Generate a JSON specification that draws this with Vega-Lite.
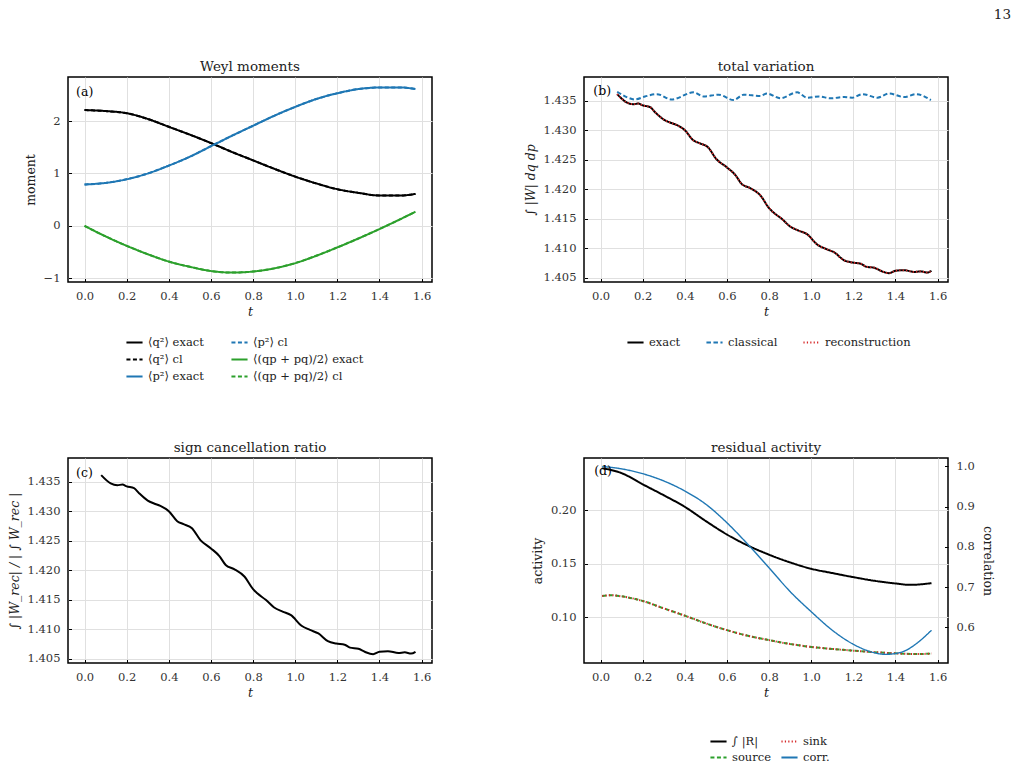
{
  "$schema": "https://vega.github.io/schema/vega-lite/v6.json",
  "padding": {"left": 7, "top": 8, "right": 5, "bottom": 5},
  "title": {"text": "13", "anchor": "end", "fontSize": 13.5, "offset": 37, "dx": 17},
  "bounds": "flush",
  "columns": 2,
  "spacing": {"row": 176, "column": 152},
  "resolve": {"scale": {"color": "independent", "strokeDash": "independent"}},
  "datasets": {
    "a": [
      {"t": 0, "v": 2.21, "s": "⟨q²⟩ exact"}, {"t": 0.1, "v": 2.19, "s": "⟨q²⟩ exact"}, {"t": 0.2, "v": 2.15, "s": "⟨q²⟩ exact"}, {"t": 0.3, "v": 2.04, "s": "⟨q²⟩ exact"}, {"t": 0.4, "v": 1.89, "s": "⟨q²⟩ exact"}, {"t": 0.5, "v": 1.74, "s": "⟨q²⟩ exact"}, {"t": 0.6, "v": 1.58, "s": "⟨q²⟩ exact"}, {"t": 0.7, "v": 1.41, "s": "⟨q²⟩ exact"}, {"t": 0.8, "v": 1.25, "s": "⟨q²⟩ exact"}, {"t": 0.9, "v": 1.09, "s": "⟨q²⟩ exact"}, {"t": 1.0, "v": 0.94, "s": "⟨q²⟩ exact"}, {"t": 1.1, "v": 0.81, "s": "⟨q²⟩ exact"}, {"t": 1.2, "v": 0.70, "s": "⟨q²⟩ exact"}, {"t": 1.3, "v": 0.63, "s": "⟨q²⟩ exact"}, {"t": 1.4, "v": 0.58, "s": "⟨q²⟩ exact"}, {"t": 1.5, "v": 0.58, "s": "⟨q²⟩ exact"}, {"t": 1.5708, "v": 0.61, "s": "⟨q²⟩ exact"},
      {"t": 0, "v": 2.21, "s": "⟨q²⟩ cl"}, {"t": 0.1, "v": 2.19, "s": "⟨q²⟩ cl"}, {"t": 0.2, "v": 2.15, "s": "⟨q²⟩ cl"}, {"t": 0.3, "v": 2.04, "s": "⟨q²⟩ cl"}, {"t": 0.4, "v": 1.89, "s": "⟨q²⟩ cl"}, {"t": 0.5, "v": 1.74, "s": "⟨q²⟩ cl"}, {"t": 0.6, "v": 1.58, "s": "⟨q²⟩ cl"}, {"t": 0.7, "v": 1.41, "s": "⟨q²⟩ cl"}, {"t": 0.8, "v": 1.25, "s": "⟨q²⟩ cl"}, {"t": 0.9, "v": 1.09, "s": "⟨q²⟩ cl"}, {"t": 1.0, "v": 0.94, "s": "⟨q²⟩ cl"}, {"t": 1.1, "v": 0.81, "s": "⟨q²⟩ cl"}, {"t": 1.2, "v": 0.70, "s": "⟨q²⟩ cl"}, {"t": 1.3, "v": 0.63, "s": "⟨q²⟩ cl"}, {"t": 1.4, "v": 0.58, "s": "⟨q²⟩ cl"}, {"t": 1.5, "v": 0.58, "s": "⟨q²⟩ cl"}, {"t": 1.5708, "v": 0.61, "s": "⟨q²⟩ cl"},
      {"t": 0, "v": 0.79, "s": "⟨p²⟩ exact"}, {"t": 0.1, "v": 0.82, "s": "⟨p²⟩ exact"}, {"t": 0.2, "v": 0.89, "s": "⟨p²⟩ exact"}, {"t": 0.3, "v": 1.00, "s": "⟨p²⟩ exact"}, {"t": 0.4, "v": 1.15, "s": "⟨p²⟩ exact"}, {"t": 0.5, "v": 1.32, "s": "⟨p²⟩ exact"}, {"t": 0.6, "v": 1.52, "s": "⟨p²⟩ exact"}, {"t": 0.7, "v": 1.72, "s": "⟨p²⟩ exact"}, {"t": 0.8, "v": 1.91, "s": "⟨p²⟩ exact"}, {"t": 0.9, "v": 2.10, "s": "⟨p²⟩ exact"}, {"t": 1.0, "v": 2.27, "s": "⟨p²⟩ exact"}, {"t": 1.1, "v": 2.42, "s": "⟨p²⟩ exact"}, {"t": 1.2, "v": 2.53, "s": "⟨p²⟩ exact"}, {"t": 1.3, "v": 2.61, "s": "⟨p²⟩ exact"}, {"t": 1.4, "v": 2.64, "s": "⟨p²⟩ exact"}, {"t": 1.5, "v": 2.64, "s": "⟨p²⟩ exact"}, {"t": 1.5708, "v": 2.61, "s": "⟨p²⟩ exact"},
      {"t": 0, "v": 0.79, "s": "⟨p²⟩ cl"}, {"t": 0.1, "v": 0.82, "s": "⟨p²⟩ cl"}, {"t": 0.2, "v": 0.89, "s": "⟨p²⟩ cl"}, {"t": 0.3, "v": 1.00, "s": "⟨p²⟩ cl"}, {"t": 0.4, "v": 1.15, "s": "⟨p²⟩ cl"}, {"t": 0.5, "v": 1.32, "s": "⟨p²⟩ cl"}, {"t": 0.6, "v": 1.52, "s": "⟨p²⟩ cl"}, {"t": 0.7, "v": 1.72, "s": "⟨p²⟩ cl"}, {"t": 0.8, "v": 1.91, "s": "⟨p²⟩ cl"}, {"t": 0.9, "v": 2.10, "s": "⟨p²⟩ cl"}, {"t": 1.0, "v": 2.27, "s": "⟨p²⟩ cl"}, {"t": 1.1, "v": 2.42, "s": "⟨p²⟩ cl"}, {"t": 1.2, "v": 2.53, "s": "⟨p²⟩ cl"}, {"t": 1.3, "v": 2.61, "s": "⟨p²⟩ cl"}, {"t": 1.4, "v": 2.64, "s": "⟨p²⟩ cl"}, {"t": 1.5, "v": 2.64, "s": "⟨p²⟩ cl"}, {"t": 1.5708, "v": 2.61, "s": "⟨p²⟩ cl"},
      {"t": 0, "v": 0.0, "s": "⟨(qp + pq)/2⟩ exact"}, {"t": 0.1, "v": -0.20, "s": "⟨(qp + pq)/2⟩ exact"}, {"t": 0.2, "v": -0.38, "s": "⟨(qp + pq)/2⟩ exact"}, {"t": 0.3, "v": -0.54, "s": "⟨(qp + pq)/2⟩ exact"}, {"t": 0.4, "v": -0.68, "s": "⟨(qp + pq)/2⟩ exact"}, {"t": 0.5, "v": -0.78, "s": "⟨(qp + pq)/2⟩ exact"}, {"t": 0.6, "v": -0.86, "s": "⟨(qp + pq)/2⟩ exact"}, {"t": 0.7, "v": -0.89, "s": "⟨(qp + pq)/2⟩ exact"}, {"t": 0.8, "v": -0.87, "s": "⟨(qp + pq)/2⟩ exact"}, {"t": 0.9, "v": -0.81, "s": "⟨(qp + pq)/2⟩ exact"}, {"t": 1.0, "v": -0.71, "s": "⟨(qp + pq)/2⟩ exact"}, {"t": 1.1, "v": -0.57, "s": "⟨(qp + pq)/2⟩ exact"}, {"t": 1.2, "v": -0.41, "s": "⟨(qp + pq)/2⟩ exact"}, {"t": 1.3, "v": -0.24, "s": "⟨(qp + pq)/2⟩ exact"}, {"t": 1.4, "v": -0.06, "s": "⟨(qp + pq)/2⟩ exact"}, {"t": 1.5, "v": 0.13, "s": "⟨(qp + pq)/2⟩ exact"}, {"t": 1.5708, "v": 0.27, "s": "⟨(qp + pq)/2⟩ exact"},
      {"t": 0, "v": 0.0, "s": "⟨(qp + pq)/2⟩ cl"}, {"t": 0.1, "v": -0.20, "s": "⟨(qp + pq)/2⟩ cl"}, {"t": 0.2, "v": -0.38, "s": "⟨(qp + pq)/2⟩ cl"}, {"t": 0.3, "v": -0.54, "s": "⟨(qp + pq)/2⟩ cl"}, {"t": 0.4, "v": -0.68, "s": "⟨(qp + pq)/2⟩ cl"}, {"t": 0.5, "v": -0.78, "s": "⟨(qp + pq)/2⟩ cl"}, {"t": 0.6, "v": -0.86, "s": "⟨(qp + pq)/2⟩ cl"}, {"t": 0.7, "v": -0.89, "s": "⟨(qp + pq)/2⟩ cl"}, {"t": 0.8, "v": -0.87, "s": "⟨(qp + pq)/2⟩ cl"}, {"t": 0.9, "v": -0.81, "s": "⟨(qp + pq)/2⟩ cl"}, {"t": 1.0, "v": -0.71, "s": "⟨(qp + pq)/2⟩ cl"}, {"t": 1.1, "v": -0.57, "s": "⟨(qp + pq)/2⟩ cl"}, {"t": 1.2, "v": -0.41, "s": "⟨(qp + pq)/2⟩ cl"}, {"t": 1.3, "v": -0.24, "s": "⟨(qp + pq)/2⟩ cl"}, {"t": 1.4, "v": -0.06, "s": "⟨(qp + pq)/2⟩ cl"}, {"t": 1.5, "v": 0.13, "s": "⟨(qp + pq)/2⟩ cl"}, {"t": 1.5708, "v": 0.27, "s": "⟨(qp + pq)/2⟩ cl"}
    ],
    "tv": [
      {"t": 0.079, "v": 1.4361, "s": "exact"}, {"t": 0.124, "v": 1.4347, "s": "exact"}, {"t": 0.156, "v": 1.4344, "s": "exact"}, {"t": 0.18, "v": 1.4345, "s": "exact"}, {"t": 0.2, "v": 1.4342, "s": "exact"}, {"t": 0.235, "v": 1.4339, "s": "exact"}, {"t": 0.26, "v": 1.4330, "s": "exact"}, {"t": 0.3, "v": 1.4318, "s": "exact"}, {"t": 0.33, "v": 1.4313, "s": "exact"}, {"t": 0.36, "v": 1.4309, "s": "exact"}, {"t": 0.4, "v": 1.4300, "s": "exact"}, {"t": 0.44, "v": 1.4283, "s": "exact"}, {"t": 0.47, "v": 1.4278, "s": "exact"}, {"t": 0.51, "v": 1.4271, "s": "exact"}, {"t": 0.55, "v": 1.4251, "s": "exact"}, {"t": 0.6, "v": 1.4237, "s": "exact"}, {"t": 0.64, "v": 1.4224, "s": "exact"}, {"t": 0.67, "v": 1.4209, "s": "exact"}, {"t": 0.71, "v": 1.4202, "s": "exact"}, {"t": 0.76, "v": 1.4189, "s": "exact"}, {"t": 0.8, "v": 1.4168, "s": "exact"}, {"t": 0.82, "v": 1.4161, "s": "exact"}, {"t": 0.86, "v": 1.4150, "s": "exact"}, {"t": 0.9, "v": 1.4137, "s": "exact"}, {"t": 0.94, "v": 1.4130, "s": "exact"}, {"t": 0.98, "v": 1.4124, "s": "exact"}, {"t": 1.03, "v": 1.4106, "s": "exact"}, {"t": 1.07, "v": 1.4099, "s": "exact"}, {"t": 1.11, "v": 1.4093, "s": "exact"}, {"t": 1.155, "v": 1.4080, "s": "exact"}, {"t": 1.195, "v": 1.4076, "s": "exact"}, {"t": 1.235, "v": 1.4074, "s": "exact"}, {"t": 1.26, "v": 1.4069, "s": "exact"}, {"t": 1.3, "v": 1.4067, "s": "exact"}, {"t": 1.33, "v": 1.4062, "s": "exact"}, {"t": 1.37, "v": 1.4058, "s": "exact"}, {"t": 1.40, "v": 1.4062, "s": "exact"}, {"t": 1.44, "v": 1.4063, "s": "exact"}, {"t": 1.49, "v": 1.4060, "s": "exact"}, {"t": 1.52, "v": 1.4061, "s": "exact"}, {"t": 1.55, "v": 1.4059, "s": "exact"}, {"t": 1.571, "v": 1.4062, "s": "exact"},
      {"t": 0.079, "v": 1.4365, "s": "classical"}, {"t": 0.124, "v": 1.4356, "s": "classical"}, {"t": 0.163, "v": 1.4352, "s": "classical"}, {"t": 0.211, "v": 1.4357, "s": "classical"}, {"t": 0.267, "v": 1.4361, "s": "classical"}, {"t": 0.338, "v": 1.4352, "s": "classical"}, {"t": 0.441, "v": 1.4364, "s": "classical"}, {"t": 0.489, "v": 1.4357, "s": "classical"}, {"t": 0.56, "v": 1.4360, "s": "classical"}, {"t": 0.632, "v": 1.4351, "s": "classical"}, {"t": 0.679, "v": 1.4360, "s": "classical"}, {"t": 0.759, "v": 1.4358, "s": "classical"}, {"t": 0.79, "v": 1.4362, "s": "classical"}, {"t": 0.854, "v": 1.4354, "s": "classical"}, {"t": 0.933, "v": 1.4364, "s": "classical"}, {"t": 0.981, "v": 1.4355, "s": "classical"}, {"t": 1.037, "v": 1.4357, "s": "classical"}, {"t": 1.092, "v": 1.4354, "s": "classical"}, {"t": 1.156, "v": 1.4356, "s": "classical"}, {"t": 1.195, "v": 1.4355, "s": "classical"}, {"t": 1.243, "v": 1.4361, "s": "classical"}, {"t": 1.314, "v": 1.4355, "s": "classical"}, {"t": 1.37, "v": 1.4362, "s": "classical"}, {"t": 1.441, "v": 1.4356, "s": "classical"}, {"t": 1.497, "v": 1.4361, "s": "classical"}, {"t": 1.568, "v": 1.4351, "s": "classical"},
      {"t": 0.079, "v": 1.4361, "s": "reconstruction"}, {"t": 0.124, "v": 1.4347, "s": "reconstruction"}, {"t": 0.156, "v": 1.4344, "s": "reconstruction"}, {"t": 0.18, "v": 1.4345, "s": "reconstruction"}, {"t": 0.2, "v": 1.4342, "s": "reconstruction"}, {"t": 0.235, "v": 1.4339, "s": "reconstruction"}, {"t": 0.26, "v": 1.4330, "s": "reconstruction"}, {"t": 0.3, "v": 1.4318, "s": "reconstruction"}, {"t": 0.33, "v": 1.4313, "s": "reconstruction"}, {"t": 0.36, "v": 1.4309, "s": "reconstruction"}, {"t": 0.4, "v": 1.4300, "s": "reconstruction"}, {"t": 0.44, "v": 1.4283, "s": "reconstruction"}, {"t": 0.47, "v": 1.4278, "s": "reconstruction"}, {"t": 0.51, "v": 1.4271, "s": "reconstruction"}, {"t": 0.55, "v": 1.4251, "s": "reconstruction"}, {"t": 0.6, "v": 1.4237, "s": "reconstruction"}, {"t": 0.64, "v": 1.4224, "s": "reconstruction"}, {"t": 0.67, "v": 1.4209, "s": "reconstruction"}, {"t": 0.71, "v": 1.4202, "s": "reconstruction"}, {"t": 0.76, "v": 1.4189, "s": "reconstruction"}, {"t": 0.8, "v": 1.4168, "s": "reconstruction"}, {"t": 0.82, "v": 1.4161, "s": "reconstruction"}, {"t": 0.86, "v": 1.4150, "s": "reconstruction"}, {"t": 0.9, "v": 1.4137, "s": "reconstruction"}, {"t": 0.94, "v": 1.4130, "s": "reconstruction"}, {"t": 0.98, "v": 1.4124, "s": "reconstruction"}, {"t": 1.03, "v": 1.4106, "s": "reconstruction"}, {"t": 1.07, "v": 1.4099, "s": "reconstruction"}, {"t": 1.11, "v": 1.4093, "s": "reconstruction"}, {"t": 1.155, "v": 1.4080, "s": "reconstruction"}, {"t": 1.195, "v": 1.4076, "s": "reconstruction"}, {"t": 1.235, "v": 1.4074, "s": "reconstruction"}, {"t": 1.26, "v": 1.4069, "s": "reconstruction"}, {"t": 1.3, "v": 1.4067, "s": "reconstruction"}, {"t": 1.33, "v": 1.4062, "s": "reconstruction"}, {"t": 1.37, "v": 1.4058, "s": "reconstruction"}, {"t": 1.40, "v": 1.4062, "s": "reconstruction"}, {"t": 1.44, "v": 1.4063, "s": "reconstruction"}, {"t": 1.49, "v": 1.4060, "s": "reconstruction"}, {"t": 1.52, "v": 1.4061, "s": "reconstruction"}, {"t": 1.55, "v": 1.4059, "s": "reconstruction"}, {"t": 1.571, "v": 1.4062, "s": "reconstruction"}
    ],
    "d": [
      {"t": 0.008, "v": 0.239, "s": "∫ |R|"}, {"t": 0.1, "v": 0.2344, "s": "∫ |R|"}, {"t": 0.2, "v": 0.224, "s": "∫ |R|"}, {"t": 0.3, "v": 0.2138, "s": "∫ |R|"}, {"t": 0.4, "v": 0.203, "s": "∫ |R|"}, {"t": 0.5, "v": 0.1897, "s": "∫ |R|"}, {"t": 0.6, "v": 0.1772, "s": "∫ |R|"}, {"t": 0.7, "v": 0.1669, "s": "∫ |R|"}, {"t": 0.8, "v": 0.1584, "s": "∫ |R|"}, {"t": 0.9, "v": 0.1512, "s": "∫ |R|"}, {"t": 1.0, "v": 0.1453, "s": "∫ |R|"}, {"t": 1.1, "v": 0.1413, "s": "∫ |R|"}, {"t": 1.2, "v": 0.1375, "s": "∫ |R|"}, {"t": 1.3, "v": 0.1341, "s": "∫ |R|"}, {"t": 1.4, "v": 0.1316, "s": "∫ |R|"}, {"t": 1.47, "v": 0.1303, "s": "∫ |R|"}, {"t": 1.571, "v": 0.1319, "s": "∫ |R|"},
      {"t": 0.008, "v": 0.1200, "s": "source"}, {"t": 0.05, "v": 0.1206, "s": "source"}, {"t": 0.1, "v": 0.1196, "s": "source"}, {"t": 0.2, "v": 0.1153, "s": "source"}, {"t": 0.3, "v": 0.1084, "s": "source"}, {"t": 0.4, "v": 0.1016, "s": "source"}, {"t": 0.5, "v": 0.0944, "s": "source"}, {"t": 0.6, "v": 0.0881, "s": "source"}, {"t": 0.7, "v": 0.0828, "s": "source"}, {"t": 0.8, "v": 0.0788, "s": "source"}, {"t": 0.9, "v": 0.0752, "s": "source"}, {"t": 1.0, "v": 0.0725, "s": "source"}, {"t": 1.1, "v": 0.0706, "s": "source"}, {"t": 1.2, "v": 0.0690, "s": "source"}, {"t": 1.3, "v": 0.0676, "s": "source"}, {"t": 1.4, "v": 0.0665, "s": "source"}, {"t": 1.5, "v": 0.0658, "s": "source"}, {"t": 1.571, "v": 0.0663, "s": "source"},
      {"t": 0.008, "v": 0.1200, "s": "sink"}, {"t": 0.05, "v": 0.1206, "s": "sink"}, {"t": 0.1, "v": 0.1196, "s": "sink"}, {"t": 0.2, "v": 0.1153, "s": "sink"}, {"t": 0.3, "v": 0.1084, "s": "sink"}, {"t": 0.4, "v": 0.1016, "s": "sink"}, {"t": 0.5, "v": 0.0944, "s": "sink"}, {"t": 0.6, "v": 0.0881, "s": "sink"}, {"t": 0.7, "v": 0.0828, "s": "sink"}, {"t": 0.8, "v": 0.0788, "s": "sink"}, {"t": 0.9, "v": 0.0752, "s": "sink"}, {"t": 1.0, "v": 0.0725, "s": "sink"}, {"t": 1.1, "v": 0.0706, "s": "sink"}, {"t": 1.2, "v": 0.0690, "s": "sink"}, {"t": 1.3, "v": 0.0676, "s": "sink"}, {"t": 1.4, "v": 0.0665, "s": "sink"}, {"t": 1.5, "v": 0.0658, "s": "sink"}, {"t": 1.571, "v": 0.0663, "s": "sink"}
    ],
    "corr": [
      {"t": 0.008, "c": 1.0, "s": "corr."}, {"t": 0.1, "c": 0.994, "s": "corr."}, {"t": 0.2, "c": 0.982, "s": "corr."}, {"t": 0.3, "c": 0.964, "s": "corr."}, {"t": 0.4, "c": 0.939, "s": "corr."}, {"t": 0.5, "c": 0.906, "s": "corr."}, {"t": 0.6, "c": 0.86, "s": "corr."}, {"t": 0.7, "c": 0.806, "s": "corr."}, {"t": 0.8, "c": 0.748, "s": "corr."}, {"t": 0.9, "c": 0.689, "s": "corr."}, {"t": 1.0, "c": 0.639, "s": "corr."}, {"t": 1.1, "c": 0.593, "s": "corr."}, {"t": 1.2, "c": 0.558, "s": "corr."}, {"t": 1.3, "c": 0.537, "s": "corr."}, {"t": 1.35, "c": 0.533, "s": "corr."}, {"t": 1.4, "c": 0.535, "s": "corr."}, {"t": 1.45, "c": 0.543, "s": "corr."}, {"t": 1.5, "c": 0.56, "s": "corr."}, {"t": 1.571, "c": 0.593, "s": "corr."}
    ]
  },
  "concat": [
    {
      "width": 364, "height": 205,
      "title": "Weyl moments",
      "layer": [
        {
          "data": {"name": "a"},
          "mark": {"type": "line", "strokeWidth": 2, "interpolate": "monotone"},
          "encoding": {
            "x": {"field": "t", "type": "quantitative", "scale": {"domain": [-0.0785, 1.6493], "nice": false, "zero": false}, "axis": {"values": [0, 0.2, 0.4, 0.6, 0.8, 1.0, 1.2, 1.4, 1.6], "tickCount": 20, "format": ".1f", "title": "t"}},
            "y": {"field": "v", "type": "quantitative", "scale": {"domain": [-1.07, 2.84], "nice": false, "zero": false}, "axis": {"values": [-1, 0, 1, 2], "tickCount": 20, "format": "d", "title": "moment"}},
            "color": {"field": "s", "type": "nominal",
              "scale": {"domain": ["⟨q²⟩ exact", "⟨q²⟩ cl", "⟨p²⟩ exact", "⟨p²⟩ cl", "⟨(qp + pq)/2⟩ exact", "⟨(qp + pq)/2⟩ cl"], "range": ["black", "black", "#1f77b4", "#1f77b4", "#2ca02c", "#2ca02c"]},
              "legend": {"title": null, "orient": "none", "legendX": 57, "legendY": 256, "columns": 2, "columnPadding": 23, "rowPadding": 2}},
            "strokeDash": {"field": "s", "type": "nominal",
              "scale": {"domain": ["⟨q²⟩ exact", "⟨q²⟩ cl", "⟨p²⟩ exact", "⟨p²⟩ cl", "⟨(qp + pq)/2⟩ exact", "⟨(qp + pq)/2⟩ cl"], "range": [[1, 0], [4, 2.5], [1, 0], [4, 2.5], [1, 0], [4, 2.5]]},
              "legend": {"title": null, "orient": "none", "legendX": 57, "legendY": 256, "columns": 2, "columnPadding": 23, "rowPadding": 2}}
          }
        },
        {
          "data": {"values": [{"t": -0.04, "v": 2.56, "label": "(a)"}]},
          "mark": {"type": "text", "align": "left", "baseline": "middle", "fontSize": 12.5},
          "encoding": {
            "x": {"field": "t", "type": "quantitative"},
            "y": {"field": "v", "type": "quantitative"},
            "text": {"field": "label"}
          }
        }
      ]
    },
    {
      "width": 364, "height": 205,
      "title": "total variation",
      "layer": [
        {
          "data": {"name": "tv"},
          "mark": {"type": "line", "strokeWidth": 2, "interpolate": "monotone"},
          "encoding": {
            "x": {"field": "t", "type": "quantitative", "scale": {"domain": [-0.0785, 1.6493], "nice": false, "zero": false}, "axis": {"values": [0, 0.2, 0.4, 0.6, 0.8, 1.0, 1.2, 1.4, 1.6], "tickCount": 20, "format": ".1f", "title": "t"}},
            "y": {"field": "v", "type": "quantitative", "scale": {"domain": [1.4043, 1.439], "nice": false, "zero": false}, "axis": {"values": [1.405, 1.41, 1.415, 1.42, 1.425, 1.43, 1.435], "tickCount": 20, "format": ".3f", "title": "∫ |W| dq dp", "titleFontStyle": "italic"}},
            "color": {"field": "s", "type": "nominal",
              "scale": {"domain": ["exact", "classical", "reconstruction"], "range": ["black", "#1f77b4", "#d62728"]},
              "legend": {"title": null, "orient": "none", "legendX": 42, "legendY": 256, "direction": "horizontal", "columns": 3, "columnPadding": 21}},
            "strokeDash": {"field": "s", "type": "nominal",
              "scale": {"domain": ["exact", "classical", "reconstruction"], "range": [[1, 0], [4.5, 2.5], [1.2, 2.2]]},
              "legend": {"title": null, "orient": "none", "legendX": 42, "legendY": 256, "direction": "horizontal", "columns": 3, "columnPadding": 21}}
          }
        },
        {
          "data": {"values": [{"t": -0.034, "v": 1.4366, "label": "(b)"}]},
          "mark": {"type": "text", "align": "left", "baseline": "middle", "fontSize": 12.5},
          "encoding": {
            "x": {"field": "t", "type": "quantitative"},
            "y": {"field": "v", "type": "quantitative"},
            "text": {"field": "label"}
          }
        }
      ]
    },
    {
      "width": 364, "height": 205,
      "title": "sign cancellation ratio",
      "layer": [
        {
          "data": {"name": "tv"},
          "transform": [{"filter": "datum.s == 'exact'"}],
          "mark": {"type": "line", "strokeWidth": 2, "interpolate": "monotone", "color": "black"},
          "encoding": {
            "x": {"field": "t", "type": "quantitative", "scale": {"domain": [-0.0785, 1.6493], "nice": false, "zero": false}, "axis": {"values": [0, 0.2, 0.4, 0.6, 0.8, 1.0, 1.2, 1.4, 1.6], "tickCount": 20, "format": ".1f", "title": "t"}},
            "y": {"field": "v", "type": "quantitative", "scale": {"domain": [1.4043, 1.439], "nice": false, "zero": false}, "axis": {"values": [1.405, 1.41, 1.415, 1.42, 1.425, 1.43, 1.435], "tickCount": 20, "format": ".3f", "title": "∫ |W_rec| / | ∫ W_rec |", "titleFontStyle": "italic"}}
          }
        },
        {
          "data": {"values": [{"t": -0.04, "v": 1.4364, "label": "(c)"}]},
          "mark": {"type": "text", "align": "left", "baseline": "middle", "fontSize": 12.5},
          "encoding": {
            "x": {"field": "t", "type": "quantitative"},
            "y": {"field": "v", "type": "quantitative"},
            "text": {"field": "label"}
          }
        }
      ]
    },
    {
      "width": 364, "height": 205,
      "title": "residual activity",
      "resolve": {"scale": {"y": "independent"}},
      "layer": [
        {
          "data": {"name": "d"},
          "mark": {"type": "line", "strokeWidth": 2, "interpolate": "monotone"},
          "encoding": {
            "x": {"field": "t", "type": "quantitative", "scale": {"domain": [-0.0785, 1.6493], "nice": false, "zero": false}, "axis": {"values": [0, 0.2, 0.4, 0.6, 0.8, 1.0, 1.2, 1.4, 1.6], "tickCount": 20, "format": ".1f", "title": "t"}},
            "y": {"field": "v", "type": "quantitative", "scale": {"domain": [0.0575, 0.2485], "nice": false, "zero": false}, "axis": {"values": [0.1, 0.15, 0.2], "tickCount": 20, "format": ".2f", "title": "activity"}},
            "color": {"field": "s", "type": "nominal",
              "scale": {"domain": ["∫ |R|", "source", "sink", "corr."], "range": ["black", "#2ca02c", "#d62728", "#1f77b4"]},
              "legend": {"title": null, "orient": "none", "legendX": 125, "legendY": 274, "columns": 2, "columnPadding": 6, "rowPadding": 1}},
            "strokeDash": {"field": "s", "type": "nominal",
              "scale": {"domain": ["∫ |R|", "source", "sink", "corr."], "range": [[1, 0], [4, 2.5], [1.2, 2.2], [1, 0]]},
              "legend": {"title": null, "orient": "none", "legendX": 125, "legendY": 274, "columns": 2, "columnPadding": 6, "rowPadding": 1}}
          }
        },
        {
          "data": {"name": "corr"},
          "mark": {"type": "line", "strokeWidth": 1.4, "interpolate": "monotone"},
          "encoding": {
            "x": {"field": "t", "type": "quantitative"},
            "y": {"field": "c", "type": "quantitative", "scale": {"domain": [0.5115, 1.021], "nice": false, "zero": false}, "axis": {"orient": "right", "values": [0.6, 0.7, 0.8, 0.9, 1.0], "tickCount": 20, "format": ".1f", "title": "correlation", "grid": false}},
            "color": {"field": "s", "type": "nominal"},
            "strokeDash": {"field": "s", "type": "nominal"}
          }
        },
        {
          "data": {"values": [{"t": -0.03, "v": 0.2363, "label": "(d)"}]},
          "mark": {"type": "text", "align": "left", "baseline": "middle", "fontSize": 12.5},
          "encoding": {
            "x": {"field": "t", "type": "quantitative"},
            "y": {"field": "v", "type": "quantitative", "scale": {"domain": [0.0575, 0.2485], "nice": false, "zero": false}, "axis": null},
            "text": {"field": "label"}
          }
        }
      ]
    }
  ],
  "config": {
    "font": "DejaVu Serif",
    "view": {"stroke": "black", "strokeWidth": 1.5},
    "axis": {"domain": false, "grid": true, "gridColor": "#e0e0e0", "gridWidth": 1, "ticks": true, "tickColor": "black", "tickSize": -3.5, "tickWidth": 1, "labelFontSize": 11.5, "labelColor": "#333", "labelPadding": 11.5, "labelOverlap": false, "titleFontSize": 12.5, "titleFontWeight": "normal", "titleColor": "#222", "titlePadding": 6},
    "axisX": {"titleFontStyle": "italic", "titlePadding": 4},
    "title": {"fontSize": 13.5, "fontWeight": "normal", "offset": 0, "color": "#222"},
    "legend": {"labelFontSize": 11.5, "labelOffset": 4, "symbolType": "stroke", "symbolStrokeWidth": 2, "symbolSize": 260, "labelColor": "#222"}
  }
}
